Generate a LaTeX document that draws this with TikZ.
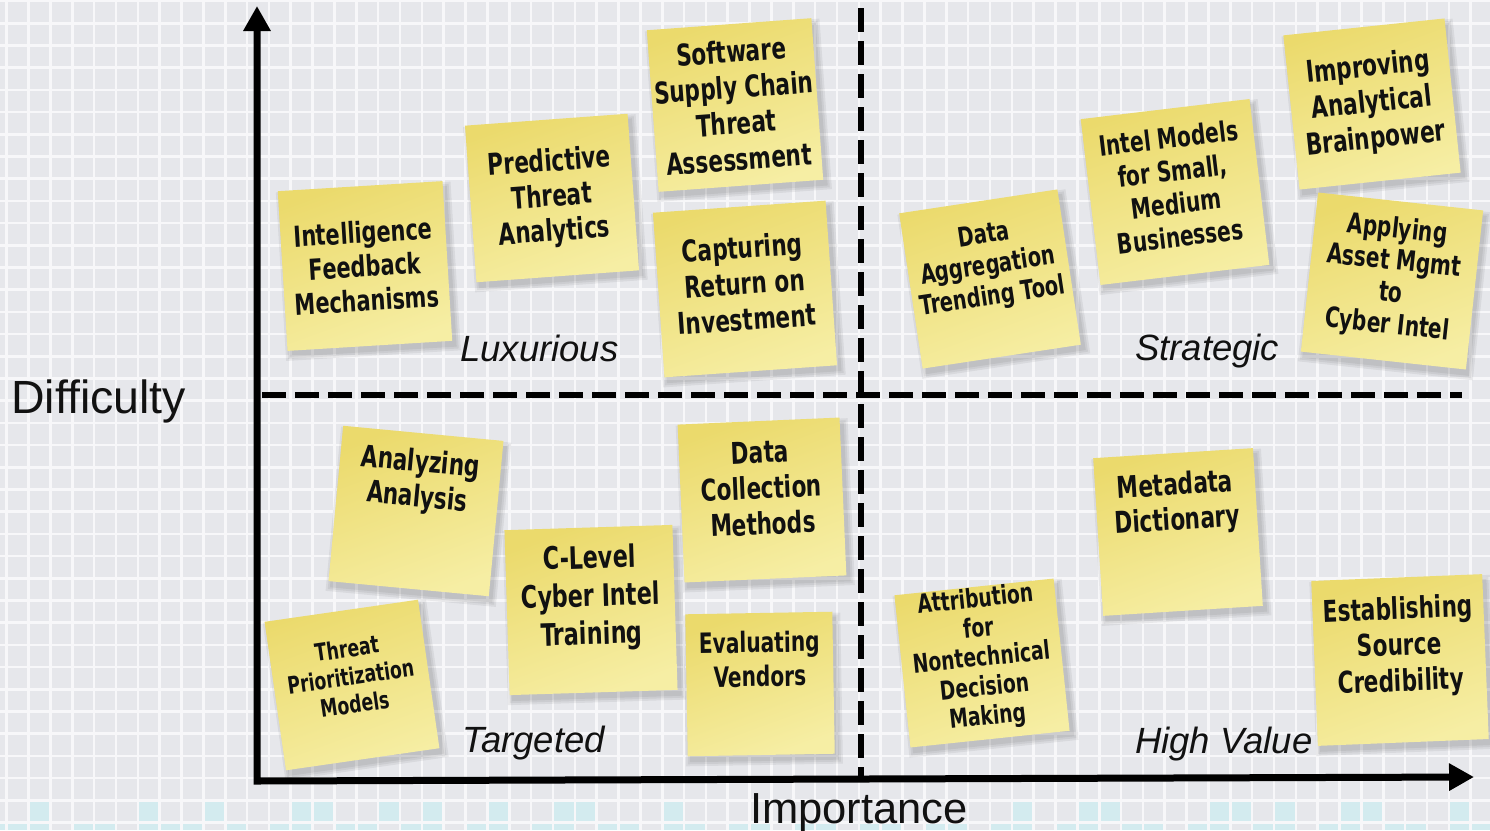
\documentclass[tikz,border=0pt]{standalone}
\usepackage{fontspec}
\setmainfont{Liberation Sans}
\newfontfamily\notefont{DejaVu Sans Condensed}[FakeStretch=0.8]
\usetikzlibrary{arrows.meta}
\definecolor{cellgray}{HTML}{E6E7EB}
\definecolor{gridwhite}{HTML}{F7F7F9}
\definecolor{cellcyan}{HTML}{D3EBEF}
\definecolor{noteTop}{HTML}{EBDA6C}
\definecolor{noteMid}{HTML}{F1E486}
\definecolor{noteBot}{HTML}{F6EEA4}
\definecolor{ink}{HTML}{111111}
\tikzset{
  gridline/.style={draw=gridwhite, line width=2.6pt},
  paper/.style={draw=none, inner sep=0pt, top color=noteTop, middle color=noteMid, bottom color=noteBot, shading angle=20},
  notetext/.style={align=center, inner sep=0pt, text=ink},
  axisline/.style={line width=7pt, draw=black, line join=miter, {Triangle[length=25pt,width=26pt]}-{Triangle[length=25pt,width=26pt]}},
  divider/.style={line width=6.5pt, draw=black, dash pattern=on 24pt off 9pt},
  quadlabel/.style={font=\itshape\fontsize{36.5}{40}\selectfont, text=ink, inner sep=0pt, anchor=base west},
  axislabel/.style={text=ink, inner sep=0pt},
}
\newcommand\stickynote[9]{%
  \begin{scope}[shift={(#2)}, rotate=#3, transform shape]
    \foreach \k in {0,2,4} {
      \fill[black, opacity=0.06] ({-#4/2+2-\k},{-#5/2+5-\k}) rectangle ({#4/2+4+\k},{#5/2+6+\k});
    }
    \node[paper, minimum width=#4, minimum height=#5] (#1) at (0,0) {};
    \node[notetext, font=\notefont\bfseries\fontsize{#7}{#8}\selectfont] (#1-t) at (0,#6) {#9};
  \end{scope}}
\begin{document}
\begin{tikzpicture}[x=1pt, y=-1pt]
\useasboundingbox (0,0) rectangle (1490,830);
% background
\fill[cellgray] (0,0) rectangle (1490,830);
\foreach \i in {1,6,9,13,14,17,19,22,25,26,30,46,49,50,55,56,58,61,62,66} {
  \fill[cellcyan] ({6.7+21.85*\i},800.2) rectangle ({6.7+21.85*(\i+1)},822.4);
}
\foreach \i in {-1,0,1,3,4,6,7,8,10,12,13,15,16,18,19,21,22,24,25,27,28,30,31,33,34,36,37,39,40,42,43,45,46,48,49,51,52,54,55,57,58,60,61,63,64,66,67} {
  \fill[cellcyan] ({6.7+21.85*\i},822.4) rectangle ({6.7+21.85*(\i+1)},830);
}
\foreach \i in {0,...,68} { \draw[gridline] ({6.7+21.85*\i},0) -- ({6.7+21.85*\i},830); }
\foreach \j in {0,...,37} { \draw[gridline] (0,{1+22.2*\j}) -- (1490,{1+22.2*\j}); }

% dividers
\coordinate (vtop) at (861,8);
\coordinate (vbot) at (861,778);
\coordinate (hleft) at (262,395);
\coordinate (hright) at (1462,395);
\draw[divider] (vtop) -- (vbot);
\draw[divider] (hleft) -- (hright);

% axes
\coordinate (ytop) at (257,6);
\coordinate (origin) at (257,781);
\coordinate (xend) at (1474,777);
\draw[axisline] (ytop) -- (origin) -- (xend);

% axis labels
\node[axislabel, font=\fontsize{46.5}{50}\selectfont, anchor=base west] (difficulty) at (11,413) {Difficulty};
\node[axislabel, font=\fontsize{43.5}{48}\selectfont, anchor=base] (importance) at (859,823) {Importance};

% quadrant labels
\node[quadlabel] (lux) at (460,361) {Luxurious};
\node[quadlabel] (strat) at (1135,360) {Strategic};
\node[quadlabel] (targ) at (462,752) {Targeted};
\node[quadlabel] (hv) at (1135,753) {High Value};

% sticky notes: name; center; rotation; width; height; text offset; font size; line skip; text
\stickynote{ifm}{365,266}{3.5}{165}{160}{0}{29}{34}{Intelligence\\Feedback\\Mechanisms}
\stickynote{pta}{552,198}{4.2}{163}{157}{0}{30}{35}{Predictive\\Threat\\Analytics}
\stickynote{ssc}{735,105}{4.2}{165}{162}{0}{30}{36}{Software\\Supply Chain\\Threat\\Assessment}
\stickynote{croi}{745,289}{4}{173}{165}{-6}{30}{36}{Capturing\\Return on\\Investment}
\stickynote{dat}{990,279}{8.6}{160}{157}{-12}{27}{31}{Data\\Aggregation\\Trending Tool}
\stickynote{ims}{1175,192}{6.8}{170}{167}{-5}{28}{33}{Intel Models\\for Small,\\Medium\\Businesses}
\stickynote{iab}{1372,104}{6}{162}{155}{0}{30}{36}{Improving\\Analytical\\Brainpower}
\stickynote{aam}{1392,281}{-6.2}{166}{160}{-3}{28}{32}{Applying\\Asset Mgmt\\to\\Cyber Intel}
\stickynote{aa}{416,511}{-5.4}{161}{156}{-30}{30}{35}{Analyzing\\Analysis}
\stickynote{tpm}{352,685}{8.2}{155}{150}{-9}{24}{28}{Threat\\Prioritization\\Models}
\stickynote{clct}{591,610}{1.8}{168}{165}{-12}{31}{38}{C-Level\\Cyber Intel\\Training}
\stickynote{dcm}{762,500}{2.5}{162}{158}{-12}{30}{36}{Data\\Collection\\Methods}
\stickynote{ev}{760,684}{1}{147}{142}{-25}{28}{34}{Evaluating\\Vendors}
\stickynote{md}{1178,532}{3.6}{160}{158}{-28}{30}{35}{Metadata\\Dictionary}
\stickynote{afn}{982,663}{6}{160}{153}{-4}{26}{29.5}{Attribution\\for\\Nontechnical\\Decision\\Making}
\stickynote{esc}{1400,660}{2.3}{171}{165}{-13}{30}{36}{Establishing\\Source\\Credibility}
\end{tikzpicture}
\end{document}
